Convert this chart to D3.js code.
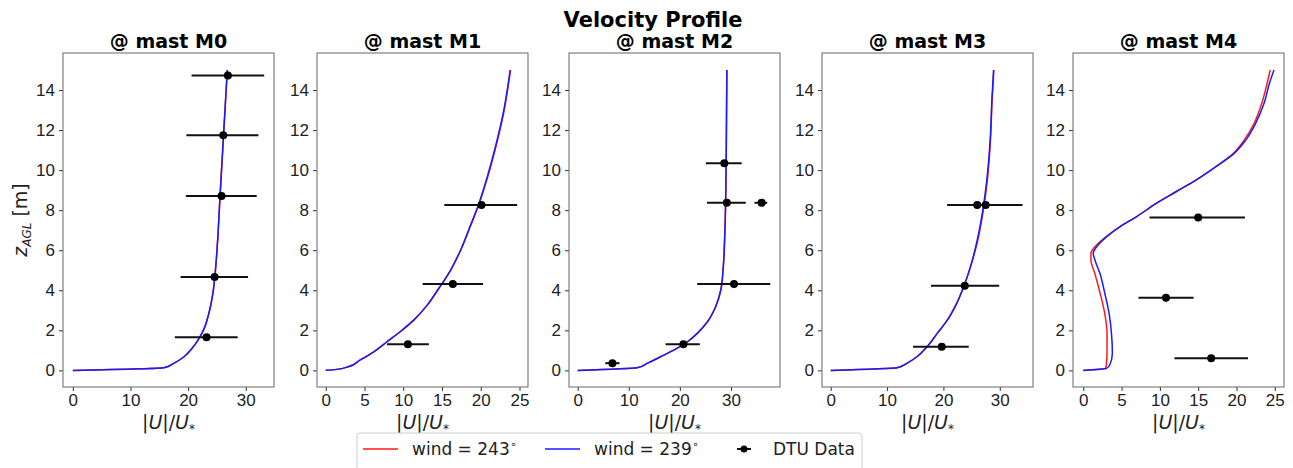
<!DOCTYPE html>
<html>
<head>
<meta charset="utf-8">
<script src="https://cdn.jsdelivr.net/npm/d3@7"></script>
<style>
  body { margin: 0; background: #fff; }
  svg { font-family: "DejaVu Sans", sans-serif; }
  .tick text { font-size: 17px; fill: #222; }
</style>
</head>
<body>
<svg id="svg" width="1293" height="468"></svg>
<script>
// mast names
var masts = ["M0", "M1", "M2", "M3", "M4"];

// simulated profiles: heights z [m] and |U|/U* for each wind direction
var zM0 = [0, 0.13, 0.35, 0.68, 1.1, 1.6, 2.1, 2.85, 3.85, 5.2, 6.85, 8.5, 11.0, 13.0, 15.0];
var u243M0 = [0, 15.8, 17.5, 19.3, 20.7, 21.9, 22.8, 23.6, 24.3, 24.8, 25.2, 25.5, 26.0, 26.4, 26.8];
var u239M0 = [0, 15.8, 17.5, 19.3, 20.7, 21.9, 22.8, 23.6, 24.3, 24.8, 25.2, 25.5, 26.0, 26.4, 26.8];

var zM1 = [0, 0.05, 0.18, 0.51, 0.93, 1.43, 1.93, 2.51, 3.26, 4.1, 5.0, 6.0, 7.17, 8.34, 9.67, 11.17, 12.84, 15.0];
var u243M1 = [0, 1.4, 2.9, 4.4, 6.2, 7.9, 9.6, 11.35, 13.1, 14.6, 16.1, 17.4, 18.65, 19.8, 20.9, 21.95, 22.95, 23.85];
var u239M1 = [0, 1.4, 2.9, 4.4, 6.2, 7.9, 9.6, 11.35, 13.1, 14.6, 16.1, 17.4, 18.6, 19.77, 20.85, 21.9, 22.9, 23.8];

var zM2 = [0, 0.13, 0.35, 0.68, 1.01, 1.43, 1.85, 2.43, 3.18, 4.0, 5.17, 6.84, 10.17, 15.0];
var u243M2 = [0, 11.6, 13.6, 16.2, 18.8, 21.5, 23.4, 25.4, 27.0, 28.0, 28.5, 28.8, 29.06, 29.2];
var u239M2 = [0, 11.6, 13.6, 16.2, 18.8, 21.5, 23.4, 25.4, 27.0, 28.0, 28.5, 28.8, 29.06, 29.2];

var zM3 = [0, 0.13, 0.35, 0.68, 1.18, 1.85, 2.51, 3.26, 4.18, 5.17, 6.5, 7.84, 9.5, 11.5, 13.5, 15.0];
var u243M3 = [0, 11.76, 13.5, 15.3, 17.1, 18.9, 20.7, 22.2, 23.6, 24.8, 26.1, 27.0, 27.8, 28.35, 28.65, 28.95];
var u239M3 = [0, 11.76, 13.5, 15.3, 17.1, 18.9, 20.7, 22.2, 23.6, 24.8, 26.0, 26.9, 27.7, 28.3, 28.6, 28.9];

var zM4 = [0, 0.1, 0.27, 0.85, 1.85, 2.85, 3.85, 4.85, 5.51, 5.85, 6.17, 6.67, 7.17, 7.67, 8.34, 8.92, 9.5, 10.17, 10.84, 11.5, 12.34, 13.34, 14.34, 15.0];
var u243M4 = [0, 2.9, 3.0, 3.1, 3.1, 2.8, 2.2, 1.5, 1.0, 1.0, 1.52, 2.95, 4.76, 6.93, 9.52, 12.1, 14.7, 17.3, 19.6, 21.0, 22.3, 23.3, 24.0, 24.4];
var u239M4 = [0, 3.03, 3.46, 3.8, 3.68, 3.37, 2.81, 2.17, 1.52, 1.3, 1.73, 3.03, 4.76, 6.93, 9.52, 12.1, 14.7, 17.3, 19.7, 21.2, 22.5, 23.6, 24.3, 24.9];

// DTU measurements: height, mean, error bar low / high
var dtuZM0 = [14.73, 11.74, 8.71, 4.66, 1.65];
var dtuUM0 = [26.9, 26.1, 25.8, 24.6, 23.2];
var dtuLoM0 = [20.6, 19.7, 19.6, 18.7, 17.7];
var dtuHiM0 = [33.2, 32.2, 31.9, 30.4, 28.6];

var dtuZM1 = [8.26, 4.31, 1.3];
var dtuUM1 = [20.1, 16.4, 10.6];
var dtuLoM1 = [15.3, 12.5, 7.9];
var dtuHiM1 = [24.7, 20.3, 13.3];

var dtuZM2 = [10.34, 8.37, 8.37, 4.31, 1.3, 0.36];
var dtuUM2 = [28.7, 29.2, 36.0, 30.6, 20.7, 6.8];
var dtuLoM2 = [25.1, 25.3, 34.6, 23.4, 17.2, 5.4];
var dtuHiM2 = [32.1, 32.9, 37.1, 37.7, 23.9, 8.2];

var dtuZM3 = [8.26, 8.26, 4.23, 1.18];
var dtuUM3 = [26.0, 27.5, 23.8, 19.7];
var dtuLoM3 = [20.7, 20.7, 17.8, 14.6];
var dtuHiM3 = [34.0, 34.0, 29.9, 24.5];

var dtuZM4 = [7.64, 3.63, 0.6];
var dtuUM4 = [15.0, 10.8, 16.7];
var dtuLoM4 = [8.65, 7.2, 11.9];
var dtuHiM4 = [21.1, 14.4, 21.5];

// x domains and ticks per panel
var xDomains = [[-1.7, 34.9], [-1.13, 26.1], [-1.7, 39.6], [-1.55, 35.9], [-1.34, 26.2]];
var xTicks = [[0, 10, 20, 30], [0, 5, 10, 15, 20, 25], [0, 10, 20, 30], [0, 10, 20, 30], [0, 5, 10, 15, 20, 25]];
var yTicks = [0, 2, 4, 6, 8, 10, 12, 14];

var profiles = [
  { z: zM0, a: u243M0, b: u239M0, dz: dtuZM0, du: dtuUM0, lo: dtuLoM0, hi: dtuHiM0 },
  { z: zM1, a: u243M1, b: u239M1, dz: dtuZM1, du: dtuUM1, lo: dtuLoM1, hi: dtuHiM1 },
  { z: zM2, a: u243M2, b: u239M2, dz: dtuZM2, du: dtuUM2, lo: dtuLoM2, hi: dtuHiM2 },
  { z: zM3, a: u243M3, b: u239M3, dz: dtuZM3, du: dtuUM3, lo: dtuLoM3, hi: dtuHiM3 },
  { z: zM4, a: u243M4, b: u239M4, dz: dtuZM4, du: dtuUM4, lo: dtuLoM4, hi: dtuHiM4 }
];

var svg = d3.select("#svg");
var panelLeft = [63, 317, 569, 822, 1073];
var panelW = 211;
var plotTop = 53, plotBottom = 387;
var red = "#ff1a1a", blue = "#1a1aff";

var yScale = d3.scaleLinear().domain([-0.83, 15.85]).range([plotBottom, plotTop]);

svg.append("text")
  .attr("x", 653).attr("y", 27)
  .attr("text-anchor", "middle")
  .style("font-size", "21px").style("font-weight", "bold")
  .text("Velocity Profile");

profiles.forEach(function (p, i) {
  var x0 = panelLeft[i];
  var xScale = d3.scaleLinear().domain(xDomains[i]).range([x0, x0 + panelW]);
  var g = svg.append("g");

  // y axis
  g.append("g")
    .attr("transform", `translate(${x0},0)`)
    .call(d3.axisLeft(yScale).tickValues(yTicks).tickSize(4).tickPadding(4))
    .call(a => a.select(".domain").remove())
    .call(a => a.selectAll(".tick line").attr("stroke", "#333"));

  // x axis
  g.append("g")
    .attr("transform", `translate(0,${plotBottom})`)
    .call(d3.axisBottom(xScale).tickValues(xTicks[i]).tickSize(4).tickPadding(3))
    .call(a => a.select(".domain").remove())
    .call(a => a.selectAll(".tick line").attr("stroke", "#333"));

  // lines
  var line = function (vals) {
    return d3.line()
      .x((d, k) => xScale(vals[k]))
      .y((d, k) => yScale(p.z[k]))
      .curve(d3.curveMonotoneY)(p.z);
  };
  g.append("path").attr("d", line(p.a))
    .attr("fill", "none").attr("stroke", red).attr("stroke-width", 1.5);
  g.append("path").attr("d", line(p.b))
    .attr("fill", "none").attr("stroke", blue).attr("stroke-width", 1.5);

  // DTU error bars
  p.dz.forEach(function (z, k) {
    g.append("line")
      .attr("x1", xScale(p.lo[k])).attr("x2", xScale(p.hi[k]))
      .attr("y1", yScale(z)).attr("y2", yScale(z))
      .attr("stroke", "#111").attr("stroke-width", 2);
    g.append("circle")
      .attr("cx", xScale(p.du[k])).attr("cy", yScale(z))
      .attr("r", 4).attr("fill", "#000");
  });

  // frame
  g.append("rect")
    .attr("x", x0).attr("y", plotTop)
    .attr("width", panelW).attr("height", plotBottom - plotTop)
    .attr("fill", "none").attr("stroke", "#666").attr("stroke-width", 1);

  // title
  g.append("text")
    .attr("x", x0 + panelW / 2).attr("y", 48)
    .attr("text-anchor", "middle")
    .style("font-size", "19px").style("font-weight", "bold")
    .text("@ mast " + masts[i]);

  // x label
  var xl = g.append("text")
    .attr("x", x0 + panelW / 2).attr("y", 429)
    .attr("text-anchor", "middle")
    .style("font-size", "19px").attr("fill", "#222");
  xl.append("tspan").text("|");
  xl.append("tspan").style("font-style", "italic").text("U");
  xl.append("tspan").text("|/");
  xl.append("tspan").style("font-style", "italic").text("U");
  xl.append("tspan").attr("dy", 4).style("font-size", "12px").text("*");
});

// y label
var yl = svg.append("text")
  .attr("transform", "translate(27,220) rotate(-90)")
  .attr("text-anchor", "middle")
  .style("font-size", "19px").attr("fill", "#222");
yl.append("tspan").style("font-style", "italic").text("z");
yl.append("tspan").attr("dy", 4).style("font-size", "12px").style("font-style", "italic").text("AGL");
yl.append("tspan").attr("dy", -4).text(" [m]");

// legend
var lg = svg.append("g");
lg.append("rect")
  .attr("x", 357).attr("y", 433).attr("width", 505).attr("height", 38)
  .attr("rx", 3).attr("fill", "#fff").attr("stroke", "#ccc");
var legendItems = [
  { label: "wind = 243", color: red, x: 363 },
  { label: "wind = 239", color: blue, x: 545 }
];
legendItems.forEach(function (d) {
  lg.append("line")
    .attr("x1", d.x).attr("x2", d.x + 35).attr("y1", 449).attr("y2", 449)
    .attr("stroke", d.color).attr("stroke-width", 1.5);
  var t = lg.append("text")
    .attr("x", d.x + 49).attr("y", 455)
    .style("font-size", "17px").attr("fill", "#222");
  t.append("tspan").text(d.label);
  t.append("tspan").attr("dy", -7).style("font-size", "11px").text("∘");
});
lg.append("line")
  .attr("x1", 737).attr("x2", 751).attr("y1", 449).attr("y2", 449)
  .attr("stroke", "#111").attr("stroke-width", 2);
lg.append("circle").attr("cx", 744).attr("cy", 449).attr("r", 3.5).attr("fill", "#000");
lg.append("text")
  .attr("x", 773).attr("y", 455)
  .style("font-size", "17px").attr("fill", "#222")
  .text("DTU Data");
</script>
</body>
</html>
